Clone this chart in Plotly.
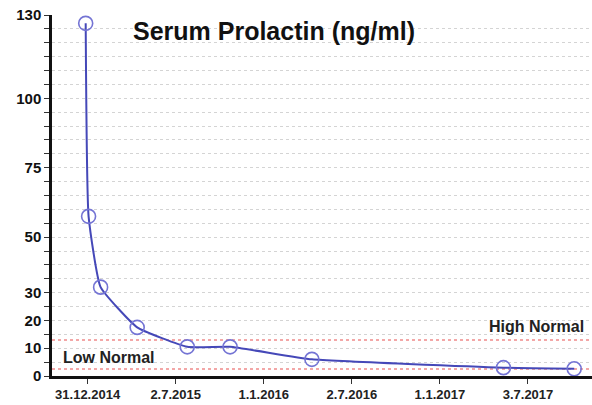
import plotly.graph_objects as go

# Data
dates = ["2014-12-27", "2015-01-02", "2015-01-27", "2015-04-13", "2015-07-26",
         "2015-10-23", "2016-04-10", "2017-05-13", "2017-10-07"]
prolactin = [127, 57.5, 32, 17.5, 10.5, 10.5, 6, 3, 2.6]

high_normal = 13
low_normal = 2.5

x_tick_vals = ["2014-12-31", "2015-07-02", "2016-01-01", "2016-07-02", "2017-01-01", "2017-07-03"]
x_tick_text = ["31.12.2014", "2.7.2015", "1.1.2016", "2.7.2016", "1.1.2017", "3.7.2017"]

y_labeled = [0, 10, 20, 30, 50, 75, 100, 130]
y_tick_vals = list(range(0, 131, 5))
y_tick_text = [str(v) if v in y_labeled else "" for v in y_tick_vals]

x_range = ["2014-10-18", "2017-11-13"]

FONT = "Liberation Sans, Arial, sans-serif"

fig = go.Figure()

# Reference lines
for val in (high_normal, low_normal):
    fig.add_trace(go.Scatter(
        x=x_range, y=[val, val], mode="lines",
        line=dict(color="#f08a8a", width=1.5, dash="dot"),
        hoverinfo="skip", showlegend=False))

fig.add_trace(go.Scatter(
    x=dates, y=prolactin, mode="lines+markers",
    line=dict(color="#4548b8", width=2, shape="spline", smoothing=0.4),
    marker=dict(symbol="circle-open", size=14, color="#7474d4", line=dict(width=1.6)),
    showlegend=False))

fig.update_layout(
    width=592, height=405,
    margin=dict(l=52, r=0, t=15, b=29),
    paper_bgcolor="white", plot_bgcolor="white",
    font=dict(family=FONT, color="#1a1a1a"),
    showlegend=False,
    annotations=[
        dict(text="<b>Serum Prolactin (ng/ml)</b>", xref="paper", yref="paper",
             x=0.146, y=0.955, xanchor="left", yanchor="middle", showarrow=False,
             font=dict(size=25, family=FONT, color="#111")),
        dict(text="<b>High Normal</b>", xref="paper", yref="y",
             x=0.988, y=17.8, xanchor="right", yanchor="middle", showarrow=False,
             font=dict(size=16, family=FONT, color="#222")),
        dict(text="<b>Low Normal</b>", xref="paper", yref="y",
             x=0.016, y=6.8, xanchor="left", yanchor="middle", showarrow=False,
             font=dict(size=16, family=FONT, color="#222")),
    ],
)

fig.update_xaxes(
    type="date", range=x_range,
    tickvals=x_tick_vals, ticktext=x_tick_text,
    ticks="outside", ticklen=5, tickcolor="#333", tickwidth=1,
    showline=True, linecolor="#111", linewidth=2.5,
    showgrid=False, zeroline=False,
    tickfont=dict(size=13, family=FONT, color="#222", weight="bold"),
)

fig.update_yaxes(
    range=[0, 130],
    tickvals=y_tick_vals, ticktext=y_tick_text,
    ticks="outside", ticklen=5, tickcolor="#333", tickwidth=1.2,
    showline=True, linecolor="#111", linewidth=2.5,
    showgrid=True, gridcolor="#d4d4d4", griddash="dot", gridwidth=1,
    zeroline=False,
    tickfont=dict(size=15, family=FONT, color="#111", weight="bold"),
)

fig.write_html("out.html", config={"displayModeBar": False},
               post_script="document.body.style.margin='0';")
